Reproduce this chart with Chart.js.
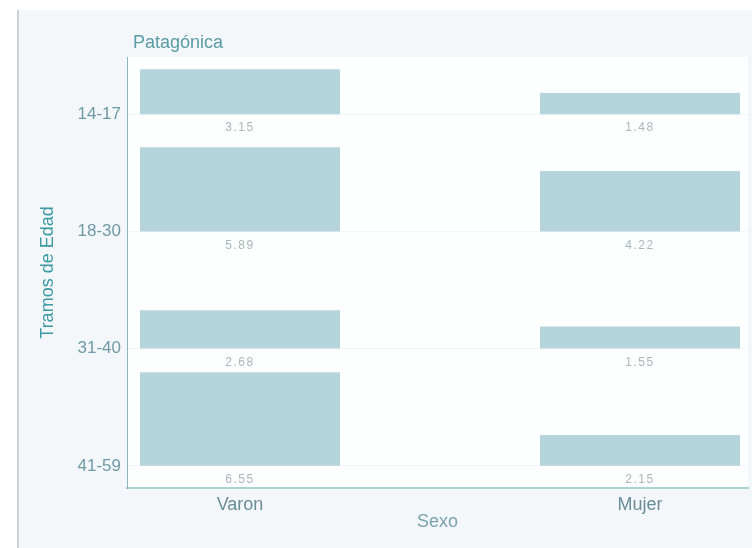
<!DOCTYPE html>
<html>
<head>
<meta charset="utf-8">
<script src="https://cdn.jsdelivr.net/npm/chart.js@4/dist/chart.umd.min.js"></script>
<style>
  html, body { margin: 0; padding: 0; background: #ffffff; }
  #wrap {
    position: absolute; left: 17px; top: 10px;
    width: 733px; height: 538px;
    border-left: 2px solid #cfcfcf;
    background: #f4f7f9;
  }
  canvas { display: block; }
</style>
</head>
<body>
<div id="wrap"><canvas id="myChart" width="733" height="538"></canvas></div>
<script>
// data
var sexo = ['Varon', 'Mujer'];
var tramos = ['14-17', '18-30', '31-40', '41-59'];
var varon = [3.15, 5.89, 2.68, 6.55];
var mujer = [1.48, 4.22, 1.55, 2.15];
var panelTitle = 'Patagónica';

// each age band sits on its own baseline of the y scale
var ROW0 = 1.55;
var ROW_STEP = 8.2;
var Y_MAX = 30.15;

function rowBase(i) {
    return ROW0 + (tramos.length - 1 - i) * ROW_STEP;
}

var datasets = [];
for (var i = 0; i < tramos.length; i++) {
    var b = rowBase(i);
    datasets.push({
        label: tramos[i],
        data: [
            {x: 0, y: [b, b + varon[i]], v: varon[i]},
            {x: 1, y: [b, b + mujer[i]], v: mujer[i]}
        ],
        backgroundColor: '#b5d4dc',
        borderWidth: 0,
        grouped: false,
        barPercentage: 0.5,
        categoryPercentage: 1
    });
}

var panelBg = {
    id: 'panelBg',
    beforeDraw: function(chart) {
        var a = chart.chartArea, ctx = chart.ctx;
        ctx.save();
        ctx.fillStyle = '#fdfefe';
        ctx.fillRect(a.left, a.top, a.right - a.left, a.bottom - a.top);
        ctx.fillStyle = '#5a9ca6';
        ctx.font = '18px "Liberation Sans", Arial, sans-serif';
        ctx.textBaseline = 'middle';
        ctx.fillText(panelTitle, a.left + 6, a.top - 14);
        ctx.restore();
    }
};

var valueLabels = {
    id: 'valueLabels',
    afterDatasetsDraw: function(chart) {
        var ctx = chart.ctx;
        ctx.save();
        ctx.fillStyle = '#a8b7bc';
        ctx.font = '12px "Liberation Sans", Arial, sans-serif';
        ctx.letterSpacing = '1.5px';
        ctx.textAlign = 'center';
        ctx.textBaseline = 'middle';
        chart.data.datasets.forEach(function(ds, di) {
            chart.getDatasetMeta(di).data.forEach(function(bar, j) {
                ctx.fillText(ds.data[j].v.toFixed(2), bar.x, bar.base + 14);
            });
        });
        ctx.restore();
    }
};

var ctx = document.getElementById('myChart').getContext('2d');
var myChart = new Chart(ctx, {
    type: 'bar',
    data: { datasets: datasets },
    plugins: [panelBg, valueLabels],
    options: {
        responsive: false,
        animation: false,
        layout: { padding: { top: 47, right: 4, left: 0, bottom: 0 } },
        plugins: {
            legend: { display: false },
            tooltip: { enabled: false }
        },
        scales: {
            x: {
                type: 'linear',
                offset: false,
                min: -0.2825,
                max: 1.27,
                afterBuildTicks: function(scale) {
                    scale.ticks = sexo.map(function(s, k) { return {value: k}; });
                },
                afterFit: function(scale) { scale.height = 60; },
                grid: { display: false, drawTicks: false, offset: false },
                border: { color: '#aad4d4', width: 2 },
                ticks: {
                    padding: 6,
                    color: '#6a8d99',
                    font: { family: '"Liberation Sans", Arial, sans-serif', size: 18 },
                    callback: function(value) { return sexo[value]; }
                },
                title: {
                    display: true,
                    text: 'Sexo',
                    color: '#7aa2ad',
                    padding: { top: 0, bottom: 15 },
                    font: { family: '"Liberation Sans", Arial, sans-serif', size: 18 }
                }
            },
            y: {
                type: 'linear',
                min: 0,
                max: Y_MAX,
                afterBuildTicks: function(scale) {
                    scale.ticks = tramos.map(function(t, k) { return {value: rowBase(k)}; }).reverse();
                },
                afterFit: function(scale) { scale.width = 108; },
                grid: { color: '#f3f6f7', drawTicks: false },
                border: { color: '#8db4ba', width: 1 },
                ticks: {
                    padding: 6,
                    color: '#6f9aa5',
                    font: { family: '"Liberation Sans", Arial, sans-serif', size: 17 },
                    callback: function(value) {
                        var k = tramos.length - 1 - Math.round((value - ROW0) / ROW_STEP);
                        return tramos[k];
                    }
                },
                title: {
                    display: true,
                    text: 'Tramos de Edad',
                    color: '#3c9aa3',
                    padding: { top: 18, bottom: 0 },
                    font: { family: '"Liberation Sans", Arial, sans-serif', size: 18 }
                }
            }
        }
    }
});
</script>
</body>
</html>
